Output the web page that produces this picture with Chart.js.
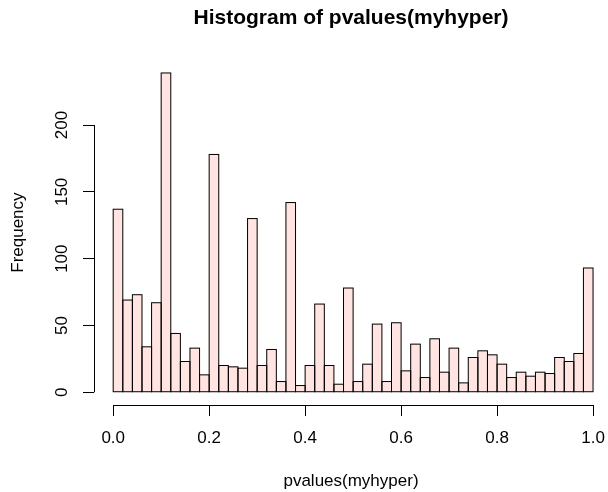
<!DOCTYPE html>
<html>
<head>
<meta charset="utf-8">
<title>Histogram of pvalues(myhyper)</title>
<script src="https://cdn.jsdelivr.net/npm/chart.js@4/dist/chart.umd.min.js"></script>
<style>
  html, body { margin: 0; padding: 0; background: #fff; }
  canvas { display: block; }
</style>
</head>
<body>
<canvas id="hist" width="608" height="492"></canvas>
<script>
  'use strict';

  // Histogram counts, one per bin of width 0.02 from 0 to 1.
  const counts = [
    137, 69, 73, 34, 67, 239, 44, 23, 33, 13,
    178, 20, 19, 18, 130, 20, 32, 8, 142, 5,
    20, 66, 20, 6, 78, 8, 21, 51, 8, 52,
    16, 36, 11, 40, 15, 33, 7, 26, 31, 28,
    21, 11, 15, 12, 15, 14, 26, 23, 29, 93
  ];
  const binWidth = 0.02;
  const xTicks = [0, 0.2, 0.4, 0.6, 0.8, 1.0];
  const yTicks = [0, 50, 100, 150, 200];

  const FONT = '"Liberation Sans", Arial, Helvetica, sans-serif';

  const points = counts.map((c, i) => ({ x: (i + 0.5) * binWidth, y: c }));

  // R-style axes: lines only over the tick range, rotated y labels,
  // and bar outlines stroked on shared edges.
  const rStyle = {
    id: 'rStyle',
    afterDatasetsDraw(chart) {
      const ctx = chart.ctx;
      const meta = chart.getDatasetMeta(0);
      ctx.save();
      ctx.strokeStyle = '#000';
      ctx.lineWidth = 1;
      meta.data.forEach(bar => {
        const p = bar.getProps(['x', 'y', 'base', 'width'], true);
        ctx.strokeRect(p.x - p.width / 2, p.y, p.width, p.base - p.y);
      });
      ctx.restore();
    },
    afterDraw(chart) {
      const ctx = chart.ctx;
      const xs = chart.scales.x;
      const ys = chart.scales.y;
      const area = chart.chartArea;
      ctx.save();
      ctx.strokeStyle = '#000';
      ctx.lineWidth = 1;
      ctx.beginPath();
      const yAxis = Math.round(area.bottom) + 0.5;
      ctx.moveTo(xs.getPixelForValue(xTicks[0]), yAxis);
      ctx.lineTo(xs.getPixelForValue(xTicks[xTicks.length - 1]), yAxis);
      const xAxis = Math.round(area.left) + 0.5;
      ctx.moveTo(xAxis, ys.getPixelForValue(yTicks[0]));
      ctx.lineTo(xAxis, ys.getPixelForValue(yTicks[yTicks.length - 1]));
      ctx.stroke();

      // Tick labels on the y axis read bottom to top.
      ctx.fillStyle = '#000';
      ctx.font = '17px ' + FONT;
      ctx.textAlign = 'center';
      ctx.textBaseline = 'middle';
      yTicks.forEach(v => {
        ctx.save();
        ctx.translate(62, ys.getPixelForValue(v));
        ctx.rotate(-Math.PI / 2);
        ctx.fillText(String(v), 0, 0);
        ctx.restore();
      });
      ctx.restore();
    }
  };

  new Chart(document.getElementById('hist'), {
    type: 'bar',
    data: {
      datasets: [{
        data: points,
        backgroundColor: '#FFE4E1',
        borderWidth: 0,
        barPercentage: 1,
        categoryPercentage: 1
      }]
    },
    options: {
      responsive: false,
      animation: false,
      devicePixelRatio: 1,
      layout: { padding: 0, autoPadding: false },
      plugins: {
        legend: { display: false },
        tooltip: { enabled: false },
        title: {
          display: true,
          fullSize: false,
          text: 'Histogram of pvalues(myhyper)',
          color: '#000',
          font: { family: FONT, size: 21, weight: 'bold' },
          padding: { top: 6, bottom: 29 }
        }
      },
      scales: {
        x: {
          type: 'linear',
          offset: false,
          min: -0.04,
          max: 1.0312,
          afterBuildTicks(scale) {
            scale.ticks = xTicks.map(v => ({ value: v }));
          },
          afterFit(scale) {
            scale.height = 87;
            // Let the last tick label overhang like R does.
            scale.paddingLeft = 0;
            scale.paddingRight = 0;
          },
          border: { display: false },
          grid: {
            offset: false,
            drawOnChartArea: false,
            drawTicks: true,
            tickLength: 11,
            color: '#000'
          },
          ticks: {
            color: '#000',
            font: { family: FONT, size: 17 },
            padding: 12,
            maxRotation: 0,
            autoSkip: false,
            callback: v => v.toFixed(1)
          },
          title: {
            display: true,
            text: 'pvalues(myhyper)',
            color: '#000',
            font: { family: FONT, size: 17 },
            padding: { top: 0, bottom: 0 }
          }
        },
        y: {
          min: -9.56,
          max: 248.56,
          afterBuildTicks(scale) {
            scale.ticks = yTicks.map(v => ({ value: v }));
          },
          afterFit(scale) {
            scale.width = 94;
            scale.paddingTop = 0;
            scale.paddingBottom = 0;
          },
          border: { display: false },
          grid: {
            drawOnChartArea: false,
            drawTicks: true,
            tickLength: 11,
            color: '#000'
          },
          ticks: { display: false },
          title: {
            display: true,
            text: 'Frequency',
            color: '#000',
            font: { family: FONT, size: 17 },
            padding: { top: 8, bottom: 0 }
          }
        }
      }
    },
    plugins: [rStyle]
  });
</script>
</body>
</html>
